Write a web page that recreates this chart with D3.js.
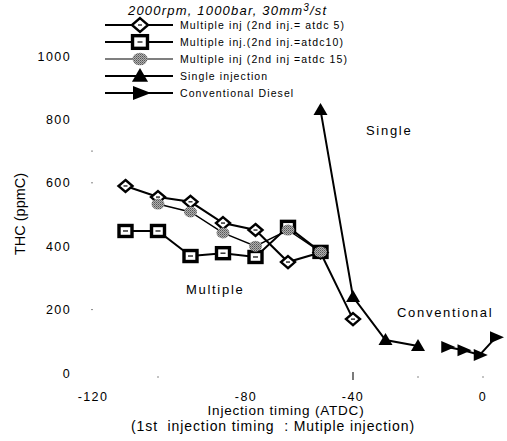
<!DOCTYPE html>
<html>
<head>
<meta charset="utf-8">
<script src="https://cdn.jsdelivr.net/npm/d3@7"></script>
<style>
  html, body { margin: 0; padding: 0; background: #fff; }
  svg { display: block; font-family: "Liberation Sans", Arial, sans-serif; }
</style>
</head>
<body>
<svg id="chart" width="507" height="441"></svg>
<script>
// THC emissions vs. injection timing
const multi5X  = [-110, -100, -90, -80, -70, -60, -50, -40];
const multi5Y  = [590, 555, 540, 473, 451, 350, 380, 170];
const multi10X = [-110, -100, -90, -80, -70, -60, -50];
const multi10Y = [448, 448, 369, 378, 366, 461, 382];
const multi15X = [-100, -90, -80, -70, -60, -50];
const multi15Y = [533, 508, 442, 400, 451, 382];
const singleX  = [-50, -40, -30, -20];
const singleY  = [830, 240, 104, 85];
const convX    = [-11, -6, -1, 4];
const convY    = [82, 72, 57, 113];

const xTicks = [-120, -80, -40, 0];
const yTicks = [0, 200, 400, 600, 800, 1000];
const legendLabels = [
  "Multiple inj (2nd inj.= atdc 5)",
  "Multiple inj.(2nd inj.=atdc10)",
  "Multiple inj (2nd inj =atdc 15)",
  "Single injection",
  "Conventional Diesel"
];

const svg = d3.select("#chart");
const x = d3.scaleLinear().domain([-120, 0]).range([93, 483]);
const y = d3.scaleLinear().domain([0, 1000]).range([373, 56]);

// stipple pattern for the grey circle marker
const defs = svg.append("defs");
const pat = defs.append("pattern").attr("id", "stip").attr("width", 2).attr("height", 2)
  .attr("patternUnits", "userSpaceOnUse");
pat.append("rect").attr("width", 2).attr("height", 2).attr("fill", "#b0b0b0");
pat.append("rect").attr("width", 1).attr("height", 1).attr("fill", "#555");
pat.append("rect").attr("x", 1).attr("y", 1).attr("width", 1).attr("height", 1).attr("fill", "#777");

// marker drawers
function drawMarker(g, type, cx, cy, k = 1) {
  if (type === "diamond") {
    g.append("path").attr("d", `M${cx},${cy-6*k}L${cx+7*k},${cy}L${cx},${cy+6*k}L${cx-7*k},${cy}Z`)
      .attr("fill", "#fff").attr("stroke", "#000").attr("stroke-width", 2.4);
    g.append("line").attr("x1", cx-2).attr("x2", cx+2).attr("y1", cy).attr("y2", cy)
      .attr("stroke", "#000").attr("stroke-width", 1.2);
  } else if (type === "square") {
    g.append("rect").attr("x", cx-6.5*k).attr("y", cy-5.5*k).attr("width", 13*k).attr("height", 11*k)
      .attr("fill", "#fff").attr("stroke", "#000").attr("stroke-width", 3.4);
    g.append("line").attr("x1", cx-2.5).attr("x2", cx+2.5).attr("y1", cy).attr("y2", cy)
      .attr("stroke", "#000").attr("stroke-width", 1.2);
  } else if (type === "circle") {
    g.append("ellipse").attr("cx", cx).attr("cy", cy).attr("rx", 6.5*k).attr("ry", 5.5*k)
      .attr("fill", "url(#stip)");
  } else if (type === "tri") {
    g.append("path").attr("d", `M${cx},${cy-7*k}L${cx+7*k},${cy+5*k}L${cx-7*k},${cy+5*k}Z`).attr("fill", "#000");
  } else if (type === "rtri") {
    g.append("path").attr("d", `M${cx+8*k},${cy}L${cx-6*k},${cy-6*k}L${cx-6*k},${cy+6*k}Z`).attr("fill", "#000");
  }
}

const series = [
  { xs: multi5X,  ys: multi5Y,  type: "diamond", w: 2 },
  { xs: multi10X, ys: multi10Y, type: "square",  w: 2 },
  { xs: multi15X, ys: multi15Y, type: "circle",  w: 1.4 },
  { xs: singleX,  ys: singleY,  type: "tri",     w: 2 },
  { xs: convX,    ys: convY,    type: "rtri",    w: 2 }
];

const line = d3.line().x(d => x(d[0])).y(d => y(d[1]));
const plot = svg.append("g");
series.forEach(s => {
  const pts = s.xs.map((v, i) => [v, s.ys[i]]);
  plot.append("path").attr("d", line(pts)).attr("fill", "none")
    .attr("stroke", "#000").attr("stroke-width", s.w);
});
// markers drawn on top of every line
series.forEach(s => {
  const g = plot.append("g");
  s.xs.forEach((v, i) => drawMarker(g, s.type, x(v), y(s.ys[i])));
});

// faint tick marks
const tk = svg.append("g").attr("stroke", "#888").attr("stroke-width", 1);
[-100, -20, 0].forEach(v => tk.append("line").attr("x1", x(v)).attr("x2", x(v))
  .attr("y1", y(0) + 3).attr("y2", y(0) + 5));
tk.append("line").attr("x1", x(-40)).attr("x2", x(-40)).attr("y1", y(0) - 1).attr("y2", y(0) + 7)
  .attr("stroke", "#222").attr("stroke-width", 1.2);
[600, 700, 200].forEach(v => tk.append("line").attr("x1", 91).attr("x2", 93)
  .attr("y1", y(v)).attr("y2", y(v)));

// y tick labels
svg.append("g").selectAll("text").data(yTicks).join("text")
  .attr("x", 71).attr("y", d => y(d) + 4.5).attr("text-anchor", "end")
  .attr("font-size", 12.5).attr("letter-spacing", 1.4).text(d => d);

// x tick labels
const xLabelShift = { "-80": 23 };
svg.append("g").selectAll("text").data(xTicks).join("text")
  .attr("x", d => x(d) + (xLabelShift[d] || 0)).attr("y", 401).attr("text-anchor", "middle")
  .attr("font-size", 12.5).attr("letter-spacing", 1.4).text(d => d);

// axis titles
svg.append("text").attr("x", 286).attr("y", 415).attr("text-anchor", "middle")
  .attr("font-size", 13.5).attr("letter-spacing", 0.8).text("Injection timing (ATDC)");
svg.append("text").attr("x", 273).attr("y", 431).attr("text-anchor", "middle")
  .attr("font-size", 14).attr("letter-spacing", 0.9).attr("xml:space", "preserve")
  .text("(1st  injection timing  : Mutiple injection)");
svg.append("text").attr("transform", "translate(25,214) rotate(-90)").attr("text-anchor", "middle")
  .attr("font-size", 14.5).text("THC (ppmC)");

// annotations
const ann = [["Single", 366, 135], ["Multiple", 186, 294], ["Conventional", 397, 317]];
svg.append("g").selectAll("text").data(ann).join("text")
  .attr("x", d => d[1]).attr("y", d => d[2]).attr("font-size", 13)
  .attr("letter-spacing", 1.7).text(d => d[0]);

// legend
const title = svg.append("text").attr("x", 128).attr("y", 14.5).attr("font-size", 13)
  .attr("font-style", "italic").attr("letter-spacing", 1.2);
title.append("tspan").text("2000rpm, 1000bar, 30mm");
title.append("tspan").attr("dy", -4).attr("font-size", 10).text("3");
title.append("tspan").attr("dy", 4).text("/st");

const legTypes = ["diamond", "square", "circle", "tri", "rtri"];
const legW = [2, 2, 1.2, 2, 2];
legendLabels.forEach((lab, i) => {
  const ly = 25 + i * 17;
  const g = svg.append("g");
  g.append("line").attr("x1", 105).attr("x2", 173).attr("y1", ly).attr("y2", ly)
    .attr("stroke", "#000").attr("stroke-width", legW[i]);
  if (legTypes[i] === "rtri") {
    g.append("path").attr("d", `M${151},${ly}L${133},${ly-7}L${133},${ly+7}Z`).attr("fill", "#000");
  } else {
    drawMarker(g, legTypes[i], 140, ly, 1.15);
  }
  g.append("text").attr("x", 180).attr("y", ly + 4).attr("font-size", 10.5)
    .attr("letter-spacing", 1.1).text(lab);
});
</script>
</body>
</html>
